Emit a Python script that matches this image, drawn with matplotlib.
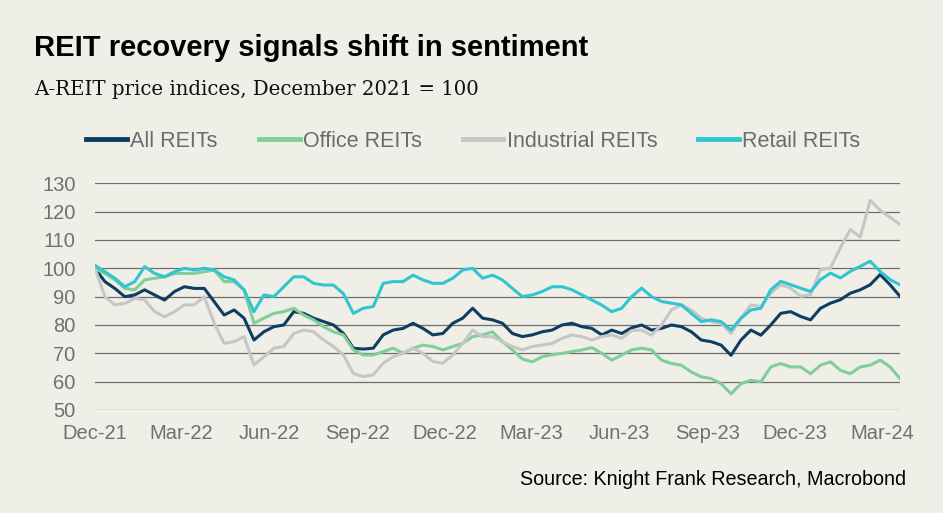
import numpy as np
import pandas as pd
import matplotlib
matplotlib.use('Agg')
import matplotlib.pyplot as plt
import matplotlib.dates as mdates

# values, roughly every 10 days from Dec 2021 to Mar 2024
dates = pd.date_range('2021-12-01', '2024-03-20', periods=82)

all_reits = [100, 95.3, 92.9, 90, 90.6, 92.4, 90.6, 88.8, 91.8, 93.5, 92.9, 92.9, 88.2, 83.5,
             85.3, 82.4, 74.7, 77.6, 79.4, 80, 84.7, 84.1, 82.4, 81.2, 80, 77, 71.8, 71.5,
             71.8, 76.5, 78.2, 78.8, 80.6, 78.8, 76.5, 77, 80.6, 82.4, 85.9, 82.4, 81.8, 80.6,
             77, 75.9, 76.5, 77.6, 78.2, 80, 80.6, 79.4, 78.8, 76.5, 78.2, 77, 79, 80,
             78.2, 78.8, 80, 79.4, 77.6, 74.7, 74.1, 72.9, 69.3, 74.7, 78.2, 76.4, 80, 84.1,
             84.7, 83, 81.8, 85.9, 87.7, 88.9, 91.2, 92.4, 94.2, 97.8, 94.2, 90.1]

office = [100, 98.2, 95.9, 92.9, 92.4, 95.9, 96.5, 97, 98.2, 98.2, 98.2, 98.8, 99.4, 95.3,
          95.3, 92.4, 80.6, 82.4, 84.1, 84.7, 85.9, 83.5, 81.8, 79.4, 77.6, 76.5, 71.2, 69.4,
          69.4, 70.6, 71.8, 70, 71.8, 72.9, 72.4, 71.2, 72.4, 73.5, 75.9, 76.5, 77.6, 74.1,
          71.2, 68, 67, 68.8, 69.5, 70, 70.6, 71.2, 72, 70, 67.6, 69.4, 71.2, 71.8,
          71.2, 67.6, 66.4, 65.8, 63.4, 61.7, 61.1, 59.3, 55.7, 59.3, 60.5, 59.9, 65.2, 66.4,
          65.2, 65.2, 62.8, 65.8, 67, 64, 62.8, 65.2, 65.8, 67.6, 65.2, 61.1]

industrial = [100, 90, 87.1, 87.6, 89.4, 88.8, 84.7, 82.9, 84.7, 87.1, 87.1, 90, 80.6, 73.5,
              74.1, 75.9, 65.9, 68.8, 71.8, 72.4, 77, 78.2, 77.6, 74.7, 72.4, 69.4, 62.9, 61.8,
              62.4, 66.5, 68.8, 70, 71.8, 70, 67.1, 66.5, 69.4, 73.5, 78.2, 75.9, 75.9, 74.1,
              72.4, 71.2, 72.4, 72.9, 73.5, 75.3, 76.5, 75.9, 74.7, 75.9, 76.5, 75.3, 78, 78.2,
              76.4, 80, 85.3, 87.1, 85.3, 82.4, 81.2, 80.6, 77, 82.4, 87.1, 86.5, 91.2, 94.2,
              93, 90.1, 90.7, 99.5, 100.1, 107.2, 113.7, 111, 124, 120.5, 118, 115.5]

retail = [101, 98.8, 96.5, 93.5, 95.3, 100.6, 98.2, 97, 98.8, 100, 99.4, 100, 99.4, 97,
          95.9, 92.4, 84.7, 90.6, 90, 93.5, 97, 97, 94.7, 94.1, 94.1, 91, 84.1, 85.9,
          86.5, 94.7, 95.3, 95.3, 97.6, 95.9, 94.7, 94.7, 96.5, 99.4, 100, 96.5, 97.6, 95.9,
          92.9, 90, 90.6, 91.8, 93.5, 93.5, 92.4, 90.6, 88.8, 87, 84.7, 85.9, 90, 93,
          90, 88.3, 87.7, 87.1, 84.1, 81.2, 81.8, 81.2, 78.2, 82.4, 85.3, 85.9, 92.4, 95.4,
          94.2, 93, 91.8, 96, 98.3, 96.6, 98.9, 100.7, 102.5, 98.9, 96, 94.2]

names = ['All REITs', 'Office REITs', 'Industrial REITs', 'Retail REITs']
colors = ['#0f3d62', '#7ecf98', '#c6c6c8', '#2fc5d1']
bg = '#f0efe7'

fig = plt.figure(figsize=(9.43, 5.13), dpi=100, facecolor=bg)
ax = fig.add_axes([0.1007, 0.2008, 0.8537, 0.4419], facecolor=bg)

for s, name, c in zip([all_reits, office, industrial, retail], names, colors):
    ax.plot(dates, s, color=c, lw=2.2, label=name, zorder=3)

ax.set_ylim(50, 130)
ax.set_yticks(np.arange(50, 131, 10))
ax.set_xlim(pd.Timestamp('2021-12-01'), pd.Timestamp('2024-03-20'))
ax.xaxis.set_major_locator(mdates.MonthLocator(bymonth=[3, 6, 9, 12]))
ax.xaxis.set_major_formatter(mdates.DateFormatter('%b-%y'))
ax.grid(axis='y', color='#6e6e6e', lw=0.9)
ax.set_axisbelow(True)
for sp in ax.spines.values():
    sp.set_visible(False)
ax.tick_params(axis='both', length=0, labelsize=14.5, labelcolor='#707070')
ax.tick_params(axis='y', pad=14)
ax.tick_params(axis='x', pad=10)
for lab in ax.get_xticklabels() + ax.get_yticklabels():
    lab.set_family('Liberation Sans')

leg = fig.legend(loc='center', bbox_to_anchor=(0.502, 0.725), ncol=4, frameon=False,
                 handlelength=1.9, handletextpad=0.15, columnspacing=1.9,
                 prop={'family': 'Liberation Sans', 'size': 15.5})
for t in leg.get_texts():
    t.set_color('#6b6b6b')
for h in leg.get_lines():
    h.set_linewidth(3.5)

fig.text(0.036, 0.89, 'REIT recovery signals shift in sentiment', fontsize=21,
         fontweight='bold', family='Liberation Sans', color='black', va='baseline')
fig.text(0.036, 0.815, 'A-REIT price indices, December 2021 = 100', fontsize=14.2,
         family='DejaVu Serif', color='#111111', va='baseline')
fig.text(0.961, 0.055, 'Source: Knight Frank Research, Macrobond', fontsize=14.2,
         family='Liberation Sans', color='black', ha='right', va='baseline')

fig.savefig('out.png', dpi=100, facecolor=bg)
